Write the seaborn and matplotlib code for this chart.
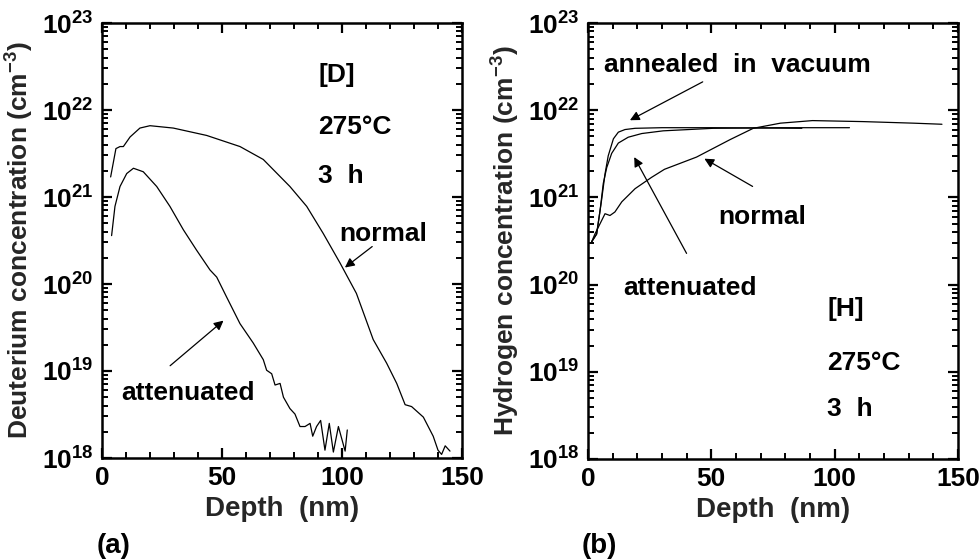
import numpy as np
import pandas as pd
import matplotlib
matplotlib.use("Agg")
import matplotlib.pyplot as plt
import seaborn as sns
from matplotlib.ticker import LogLocator, MultipleLocator, FixedLocator, NullFormatter

# ---------------- data ----------------
# Panel (a): deuterium
d_normal_x = [3.6, 5.8, 7.5, 8.9, 11.7, 15.8, 20.0, 29.7, 43.6, 57.5, 67.2, 78.3, 85.3, 92.2,
              99.2, 106.0, 113.0, 118.6, 122.8, 126.3, 129.0, 133.9, 138.0, 140.0, 141.5,
              143.0, 145.0]
d_normal_y = [1.7e21, 3.6e21, 3.8e21, 3.8e21, 4.9e21, 6.2e21, 6.6e21, 6.2e21, 5.1e21, 3.8e21,
              2.7e21, 1.32e21, 7.8e20, 3.8e20, 1.74e20, 7.8e19, 2.3e19, 1.23e19, 7.2e18,
              4.1e18, 3.9e18, 2.95e18, 1.78e18, 1.23e18, 1.1e18, 1.38e18, 1.2e18]
d_att_x = [4.0, 5.4, 7.5, 10.3, 13.1, 17.2, 22.8, 28.3, 33.9, 39.4, 45.0, 47.8, 51.9, 57.5,
           63.0, 67.2, 68.6, 70.7, 72.1, 74.2, 75.6, 78.3, 80.4, 82.5, 84.6, 86.7, 87.8, 89.4,
           91.1, 92.9, 94.7, 96.4, 98.5, 101.3, 102.2]
d_att_y = [3.6e20, 7.8e20, 1.32e21, 1.86e21, 2.14e21, 1.95e21, 1.32e21, 7.8e20, 4.2e20,
           2.45e20, 1.45e20, 1.2e20, 7.1e19, 3.5e19, 2.1e19, 1.35e19, 1.02e19, 9.3e18, 6.9e18,
           7.2e18, 5.0e18, 3.7e18, 3.2e18, 2.3e18, 2.3e18, 2.5e18, 1.78e18, 2.3e18, 2.7e18,
           1.23e18, 2.5e18, 1.17e18, 2.3e18, 1.2e18, 2.1e18]

# Panel (b): hydrogen
h_ann_x = [1.5, 3.5, 5.5, 6.9, 8.2, 10.3, 12.3, 15.0, 19.1, 30.0, 50.0, 70.0, 86.7]
h_ann_y = [3.1e20, 3.8e20, 9.3e20, 1.86e21, 3.0e21, 4.7e21, 5.6e21, 6.0e21, 6.2e21, 6.3e21,
           6.3e21, 6.25e21, 6.2e21]
h_att_x = [1.5, 3.5, 4.9, 6.2, 7.6, 9.6, 12.3, 16.3, 21.8, 30.5, 50.7, 77.8, 106.0]
h_att_y = [3.1e20, 3.8e20, 7.1e20, 1.45e21, 2.2e21, 3.2e21, 4.2e21, 4.9e21, 5.4e21, 5.8e21,
           6.2e21, 6.3e21, 6.3e21]
h_norm_x = [1.5, 2.8, 4.9, 6.9, 8.9, 10.9, 13.7, 19.1, 25.8, 31.0, 44.0, 57.6, 67.0, 78.0,
            91.0, 111.5, 132.0, 143.5]
h_norm_y = [3.1e20, 3.8e20, 5.0e20, 6.5e20, 6.2e20, 6.8e20, 8.9e20, 1.26e21, 1.7e21, 2.1e21,
            2.9e21, 4.6e21, 6.2e21, 7.1e21, 7.6e21, 7.4e21, 7.1e21, 6.9e21]

x_ticks = [0, 50, 100, 150]

# ---------------- style ----------------
sns.set_style("ticks")
FONT = ["Liberation Sans", "DejaVu Sans"]
plt.rcParams["font.family"] = FONT
plt.rcParams["font.weight"] = "bold"
plt.rcParams["mathtext.fontset"] = "custom"
plt.rcParams["mathtext.rm"] = "Liberation Sans:bold"
plt.rcParams["mathtext.it"] = "Liberation Sans:bold"
plt.rcParams["mathtext.bf"] = "Liberation Sans:bold"
plt.rcParams["mathtext.default"] = "rm"

fig = plt.figure(figsize=(9.8, 5.6), dpi=100)
axA = fig.add_axes([102 / 980, 102 / 560, 360 / 980, 435 / 560])
axB = fig.add_axes([588 / 980, 101 / 560, 370 / 980, 436 / 560])

df_a = pd.concat([
    pd.DataFrame({"depth": d_normal_x, "conc": d_normal_y, "s": "normal"}),
    pd.DataFrame({"depth": d_att_x, "conc": d_att_y, "s": "attenuated"}),
])
df_b = pd.concat([
    pd.DataFrame({"depth": h_ann_x, "conc": h_ann_y, "s": "annealed"}),
    pd.DataFrame({"depth": h_att_x, "conc": h_att_y, "s": "attenuated"}),
    pd.DataFrame({"depth": h_norm_x, "conc": h_norm_y, "s": "normal"}),
])

for ax, df in ((axA, df_a), (axB, df_b)):
    sns.lineplot(data=df, x="depth", y="conc", units="s", estimator=None, sort=False,
                 color="black", linewidth=0.9, ax=ax, legend=False)
    ax.set_yscale("log")
    ax.set_xlim(0, 150)
    ax.set_ylim(1e18, 1e23)
    ax.xaxis.set_major_locator(FixedLocator(x_ticks))
    ax.xaxis.set_minor_locator(MultipleLocator(10))
    ax.yaxis.set_major_locator(LogLocator(base=10, numticks=10))
    ax.yaxis.set_minor_locator(LogLocator(base=10, subs=np.arange(2, 10), numticks=60))
    ax.yaxis.set_minor_formatter(NullFormatter())
    ax.tick_params(axis="both", which="both", direction="in", top=True, right=True,
                   bottom=True, left=True, color="black", labelcolor="black")
    ax.tick_params(axis="both", which="major", length=7, width=1.6, labelsize=19, pad=6)
    ax.tick_params(axis="both", which="minor", length=4.5, width=1.4)
    for sp in ax.spines.values():
        sp.set_linewidth(1.8)
        sp.set_color("black")
    ax.set_xlabel("Depth  (nm)", fontsize=20, fontweight="bold", labelpad=4)

axA.set_ylabel("Deuterium concentration (cm$^{-3}$)", fontsize=19, fontweight="bold", labelpad=4)
axB.set_ylabel("Hydrogen concentration (cm$^{-3}$)", fontsize=19, fontweight="bold", labelpad=4)

tk = dict(fontsize=19, fontweight="bold", color="black")
arr = dict(arrowstyle="-|>", color="black", lw=0.9, mutation_scale=14)
# Panel (a) annotations
axA.text(90, 10 ** 22.4, "[D]", ha="left", va="center", **tk)
axA.text(90, 10 ** 21.8, "275\u00b0C", ha="left", va="center", **tk)
axA.text(90, 10 ** 21.24, "3  h", ha="left", va="center", **tk)
axA.text(99, 10 ** 20.58, "normal", ha="left", va="center", **tk)
axA.annotate("", xy=(100.3, 10 ** 20.17), xytext=(113.5, 10 ** 20.45), arrowprops=arr)
axA.text(8, 10 ** 18.75, "attenuated", ha="left", va="center", **tk)
axA.annotate("", xy=(51.5, 10 ** 19.6), xytext=(27.5, 10 ** 19.04), arrowprops=arr)

# Panel (b) annotations
axB.text(6.5, 10 ** 22.52, "annealed  in  vacuum", ha="left", va="center", **tk)
axB.annotate("", xy=(16.0, 10 ** 21.87), xytext=(47.5, 10 ** 22.34), arrowprops=arr)
axB.text(52.7, 10 ** 20.77, "normal", ha="left", va="center", **tk)
axB.annotate("", xy=(46.2, 10 ** 21.46), xytext=(67.7, 10 ** 21.11), arrowprops=arr)
axB.text(14.2, 10 ** 19.96, "attenuated", ha="left", va="center", **tk)
axB.annotate("", xy=(18.2, 10 ** 21.49), xytext=(40.5, 10 ** 20.33), arrowprops=arr)
axB.text(97.0, 10 ** 19.72, "[H]", ha="left", va="center", **tk)
axB.text(97.0, 10 ** 19.1, "275\u00b0C", ha="left", va="center", **tk)
axB.text(97.0, 10 ** 18.57, "3  h", ha="left", va="center", **tk)

pl = dict(fontsize=20, fontweight="heavy", color="black", ha="left", va="center",
          family=["Liberation Sans", "DejaVu Sans"])
fig.text(97 / 980, 1 - 546 / 560, "(a)", **pl)
fig.text(582 / 980, 1 - 546 / 560, "(b)", **pl)

fig.savefig("out.png", dpi=100)
